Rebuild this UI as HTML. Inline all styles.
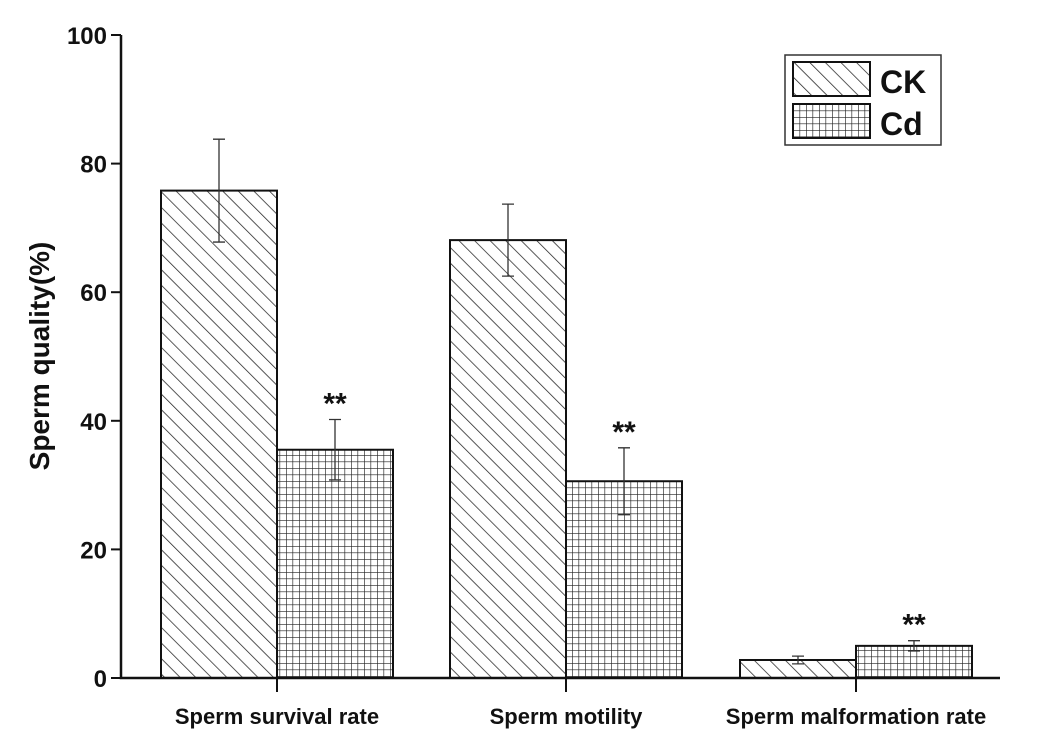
<!DOCTYPE html>
<html><head><meta charset="utf-8"><style>body{margin:0;background:#fff}svg{display:block}text{font-family:"Liberation Sans",Arial,sans-serif;font-weight:bold;fill:#111}</style></head>
<body>
<svg id="c" width="1063" height="753" viewBox="0 0 1063 753">
<defs>
<pattern id="diag" patternUnits="userSpaceOnUse" width="11" height="11" patternTransform="rotate(-45)"><rect width="11" height="11" fill="#fff"/><line x1="0" y1="0" x2="0" y2="11" stroke="#222" stroke-width="1.5"/></pattern>
<pattern id="grid" patternUnits="userSpaceOnUse" width="6.5" height="6.5"><rect width="6.5" height="6.5" fill="#fff"/><path d="M0 0H6.5M0 0V6.5" stroke="#222" stroke-width="1.3"/></pattern>
</defs>
<g id="plot"></g>
</svg>
<script>
const categories=["Sperm survival rate","Sperm motility","Sperm malformation rate"];
const ckValues=[75.8,68.1,2.8];
const ckErrors=[8.0,5.6,0.6];
const cdValues=[35.5,30.6,5.0];
const cdErrors=[4.7,5.2,0.8];
const yTicks=[0,20,40,60,80,100];
const NS="http://www.w3.org/2000/svg";
const g=document.getElementById('plot');
const x0=121,xEnd=1000,yTop=35,yBot=678;
const y=v=>yBot-(v/100)*(yBot-yTop);
const groupCenters=[277,566,856];
const bw=116;
function mk(t,a,txt){const e=document.createElementNS(NS,t);for(const k in a)e.setAttribute(k,a[k]);if(txt!==undefined)e.textContent=txt;g.appendChild(e);return e;}
function bar(cx,v,err,fill,name,star){
  const r=mk('rect',{x:cx,y:y(v),width:bw,height:yBot-y(v),fill:fill,stroke:'#111','stroke-width':2});
  
  
  const m=cx+bw/2;
  const e=mk('path',{d:`M${m} ${y(v+err)}V${y(v-err)}M${m-6} ${y(v+err)}H${m+6}M${m-6} ${y(v-err)}H${m+6}`,stroke:'#333','stroke-width':1.3,fill:'none'});
  
  
  if(star){const s=mk('text',{x:m,y:y(v+err)-6,'text-anchor':'middle','font-size':30,'font-weight':'normal'},'**');
    
    }
}
categories.forEach((c,i)=>{
  const cx=groupCenters[i];
  bar(cx-bw,ckValues[i],ckErrors[i],'url(#diag)','bar-ck-'+(i+1),false);
  bar(cx,cdValues[i],cdErrors[i],'url(#grid)','bar-cd-'+(i+1),true);
  const t=mk('text',{x:cx,y:724,'text-anchor':'middle','font-size':22},c);
  
  
  const tk=mk('line',{x1:cx,y1:yBot,x2:cx,y2:yBot+14,stroke:'#111','stroke-width':2});
  
  
});
const ax=mk('path',{d:`M${x0} ${yTop}V${yBot}H${xEnd}`,stroke:'#111','stroke-width':2.5,fill:'none'});


yTicks.forEach(v=>{
  const l=mk('line',{x1:x0-10,y1:y(v),x2:x0,y2:y(v),stroke:'#111','stroke-width':2});
  
  
  const t=mk('text',{x:x0-14,y:y(v)+9,'text-anchor':'end','font-size':24},v);
  
  
});
const yt=mk('text',{x:49,y:356,'text-anchor':'middle','font-size':28,transform:'rotate(-90 49 356)'},'Sperm quality(%)');


const lb=mk('rect',{x:785,y:55,width:156,height:90,fill:'#fff',stroke:'#333','stroke-width':1.5});


[['url(#diag)','CK',62],['url(#grid)','Cd',104]].forEach(([f,n,yy],i)=>{
  const s=mk('rect',{x:793,y:yy,width:77,height:34,fill:f,stroke:'#111','stroke-width':2});
  
  
  const t=mk('text',{x:880,y:yy+31,'font-size':32},n);
  
  
});
</script>
</body></html>
